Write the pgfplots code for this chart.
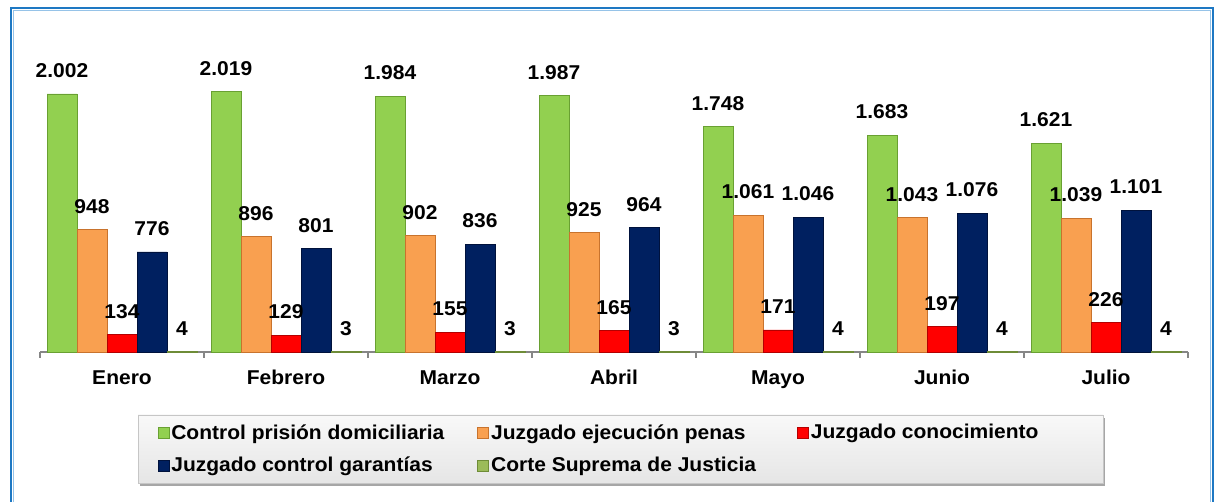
\documentclass[border=0pt]{standalone}
\usepackage{fontspec}
\setmainfont{Liberation Sans}[FakeStretch=1.05]
\usepackage{pgfplots}
\usepackage{pgfplotstable}
\pgfplotsset{compat=1.18}
\usetikzlibrary{shadows}

\definecolor{cgreen}{RGB}{146,208,80}
\definecolor{cgreenD}{RGB}{105,160,50}
\definecolor{corange}{RGB}{249,160,80}
\definecolor{corangeD}{RGB}{200,115,45}
\definecolor{cred}{RGB}{255,0,0}
\definecolor{credD}{RGB}{180,0,0}
\definecolor{cnavy}{RGB}{0,32,96}
\definecolor{cnavyD}{RGB}{0,18,60}
\definecolor{colive}{RGB}{155,187,89}
\definecolor{coliveD}{RGB}{110,140,55}
\definecolor{frameD}{RGB}{30,120,195}
\definecolor{frameL}{RGB}{150,195,232}
\definecolor{axisgray}{RGB}{134,134,134}

\pgfplotstableread{
x prision ejecucion conocimiento garantias corte
0 2002 948 134 776 4
1 2019 896 129 801 3
2 1984 902 155 836 3
3 1987 925 165 964 3
4 1748 1061 171 1046 4
5 1683 1043 197 1076 4
6 1621 1039 226 1101 4
}\datos

\newcommand{\lbl}{\fontsize{10}{12}\selectfont\bfseries}

\begin{document}
\begin{tikzpicture}
\useasboundingbox (0,0) rectangle (607.5pt,251pt);
% marco
\draw[frameD, line width=1.1pt] (5.5pt,-5pt) -- (5.5pt,247pt) -- (606.5pt,247pt) -- (606.5pt,-5pt);
\draw[frameL, line width=0.5pt] (6.6pt,-5pt) -- (6.6pt,245.9pt) -- (605.4pt,245.9pt) -- (605.4pt,-5pt);
% fondo de la leyenda
\path[draw=gray!45, line width=0.3pt, top color=gray!5, bottom color=gray!20,
      drop shadow={shadow xshift=1.2pt, shadow yshift=-1.5pt, opacity=0.35, fill=black}]
      (69pt,9.5pt) rectangle (551.5pt,43.5pt);

\begin{axis}[
    at={(20pt,75pt)}, anchor=south west,
    width=574pt, height=148.25pt, scale only axis,
    ybar=0pt, bar width=15pt,
    xmin=-0.5, xmax=6.5, ymin=0, ymax=2300,
    axis x line=bottom, axis y line=none,
    x axis line style={draw=axisgray, line width=1pt, -},
    xtick={0,...,6},
    xticklabels={Enero,Febrero,Marzo,Abril,Mayo,Junio,Julio},
    major x tick style={draw=none},
    minor xtick={-0.5,0.5,...,6.5},
    minor tick length=3pt,
    xtick align=outside,
    minor x tick style={draw=axisgray, line width=0.8pt},
    ytick=\empty,
    xticklabel style={font=\lbl, anchor=base, yshift=-12pt},
    clip=false,
    nodes near coords,
    every node near coord/.append style={font=\lbl, text=black, yshift=4.6pt},
    legend columns=3,
    legend cell align=left,
    legend style={draw=none, fill=none, at={(0.0968,-0.2226)}, anchor=north west,
        font=\lbl, nodes={inner sep=1pt}, row sep=5.6pt},
    legend image code/.code={\draw[#1, line width=0.4pt] (0pt,-2.75pt) rectangle (5.5pt,2.75pt);},
    /pgf/number format/fixed,
    /pgf/number format/precision=0,
    /pgf/number format/1000 sep={.},
    /pgf/number format/assume math mode=true,
]
\addplot[fill=cgreen, draw=cgreenD, line width=0.4pt] table[x=x, y=prision]{\datos};
\addlegendentry{\makebox[152pt][l]{Control prisión domiciliaria}}
\addplot[fill=corange, draw=corangeD, line width=0.4pt] table[x=x, y=ejecucion]{\datos};
\addlegendentry{\makebox[152pt][l]{Juzgado ejecución penas}}
\addplot[fill=cred, draw=credD, line width=0.4pt] table[x=x, y=conocimiento]{\datos};
\addlegendentry{Juzgado conocimiento}
\addplot[fill=cnavy, draw=cnavyD, line width=0.4pt] table[x=x, y=garantias]{\datos};
\addlegendentry{\makebox[152pt][l]{Juzgado control garantías}}
\addplot[fill=colive, draw=coliveD, line width=0.4pt] table[x=x, y=corte]{\datos};
\addlegendentry{\makebox[152pt][l]{Corte Suprema de Justicia}}
\end{axis}
\end{tikzpicture}
\end{document}
